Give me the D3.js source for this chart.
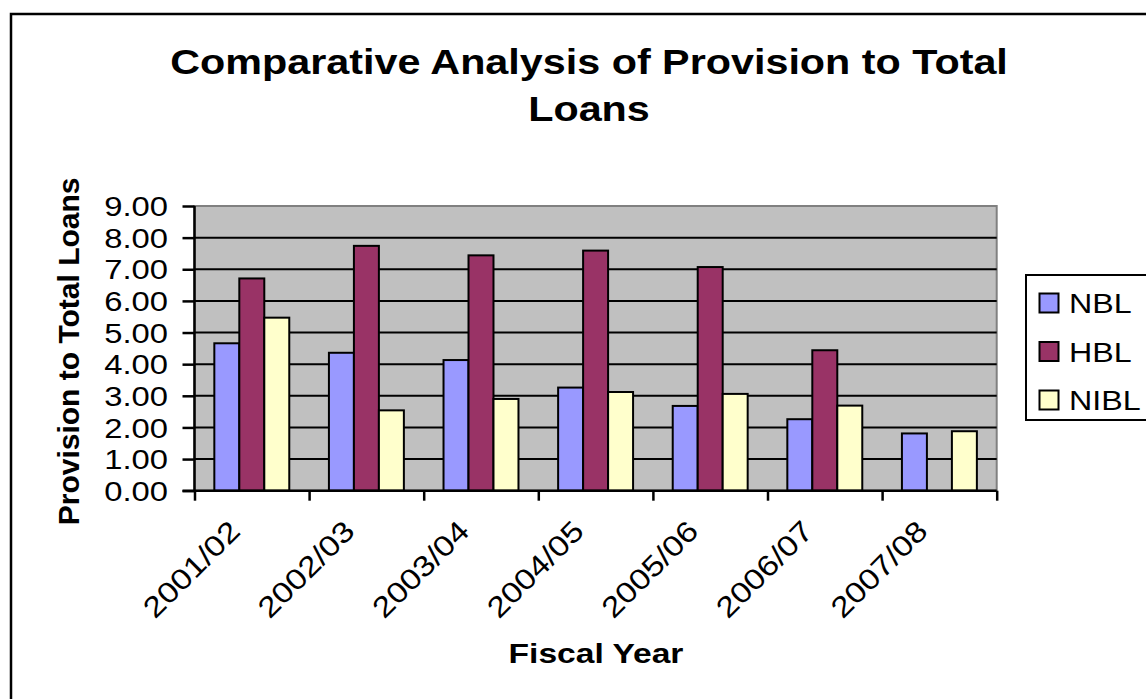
<!DOCTYPE html>
<html>
<head>
<meta charset="utf-8">
<script src="https://cdn.jsdelivr.net/npm/d3@7"></script>
<style>
  body { margin: 0; background: #fff; }
  text { font-family: Arial, "Liberation Sans", sans-serif; fill: #000; }
</style>
</head>
<body>
<svg id="chart" width="1146" height="699"></svg>
<script>
let years = ["2001/02", "2002/03", "2003/04", "2004/05", "2005/06", "2006/07", "2007/08"],
    banks = ["NBL", "HBL", "NIBL"],
    nbl  = [4.66, 4.36, 4.13, 3.26, 2.68, 2.26, 1.81],
    hbl  = [6.71, 7.74, 7.44, 7.59, 7.07, 4.44, 0],
    nibl = [5.47, 2.54, 2.90, 3.12, 3.06, 2.69, 1.88],
    yTicks = [0, 1, 2, 3, 4, 5, 6, 7, 8, 9];

let colors = {NBL: "#9999ff", HBL: "#993366", NIBL: "#ffffcc"};

let width = 1146,
    height = 699,
    plot = {left: 194.5, right: 996.7, top: 206, bottom: 490.7};

let svg = d3.select("#chart");

function make_scales() {
  let x0 = d3.scaleBand()
        .domain(years)
        .range([plot.left, plot.right]),
      gap = x0.bandwidth() * 0.173;
  return {
    x0: x0,
    x1: d3.scaleBand()
          .domain(banks)
          .range([gap, x0.bandwidth() - gap]),
    y: d3.scaleLinear()
          .domain([0, 9])
          .range([plot.bottom, plot.top])
  };
}

// text stretched horizontally, like the original rendering
function stretched(parent, x, y, str, size, sx, opts) {
  opts = opts || {};
  let g = parent.append("g")
    .attr("transform", `translate(${x},${y}) ${opts.rotate ? "rotate(" + opts.rotate + ")" : ""} scale(${sx},1)`);
  return g.append("text")
    .attr("text-anchor", opts.anchor || "start")
    .attr("dy", opts.dy || 0)
    .style("font-size", size + "px")
    .style("font-weight", opts.bold ? "bold" : "normal")
    .text(str);
}

function draw_frame() {
  svg.append("rect")
    .attr("x", 11).attr("y", 14)
    .attr("width", 1200).attr("height", 800)
    .attr("fill", "#fff").attr("stroke", "#000").attr("stroke-width", 2.5);
}

function draw_title() {
  let line1 = stretched(svg, 589, 74, "Comparative Analysis of Provision to Total", 36, 1, {anchor: "middle", bold: true});
  let sx = 838 / line1.node().getComputedTextLength();
  d3.select(line1.node().parentNode)
    .attr("transform", `translate(589,74) scale(${sx},1)`);
  stretched(svg, 589, 121, "Loans", 36, sx, {anchor: "middle", bold: true});
}

function draw_plot(scales) {
  svg.append("rect")
    .attr("x", plot.left).attr("y", plot.top)
    .attr("width", plot.right - plot.left)
    .attr("height", plot.bottom - plot.top)
    .attr("fill", "#c0c0c0")
    .attr("stroke", "#808080").attr("stroke-width", 2);

  svg.append("g").selectAll("line")
    .data(yTicks.filter(d => d > 0 && d < 9)).enter()
    .append("line")
    .attr("x1", plot.left).attr("x2", plot.right)
    .attr("y1", d => scales.y(d)).attr("y2", d => scales.y(d))
    .attr("stroke", "#000").attr("stroke-width", 2);
}

function draw_bars(scales) {
  let series = {NBL: nbl, HBL: hbl, NIBL: nibl};
  let groups = svg.append("g").selectAll("g")
    .data(years).enter()
    .append("g")
    .attr("transform", d => `translate(${scales.x0(d)},0)`);

  groups.selectAll("rect")
    .data((d, i) => banks.map(b => ({bank: b, value: series[b][i]})).filter(d => d.value > 0))
    .enter()
    .append("rect")
    .attr("x", d => scales.x1(d.bank))
    .attr("width", scales.x1.bandwidth())
    .attr("y", d => scales.y(d.value))
    .attr("height", d => scales.y(0) - scales.y(d.value))
    .attr("fill", d => colors[d.bank])
    .attr("stroke", "#000").attr("stroke-width", 2);
}

function add_axes(scales) {
  let y_axis = d3.axisLeft(scales.y)
        .tickValues(yTicks)
        .tickSize(12)
        .tickFormat(""),
      x_axis = d3.axisBottom(d3.scaleLinear().domain([0, years.length]).range([plot.left, plot.right]))
        .ticks(years.length)
        .tickSize(10)
        .tickFormat("");

  let ya = svg.append("g")
    .attr("transform", `translate(${plot.left},0)`)
    .call(y_axis);
  ya.select(".domain").attr("d", `M0,${plot.top}V${plot.bottom}`);
  ya.selectAll("line, path").attr("stroke", "#000").attr("stroke-width", 2.5);

  let xa = svg.append("g")
    .attr("transform", `translate(0,${plot.bottom})`)
    .call(x_axis);
  xa.select(".domain").attr("d", `M${plot.left - 12},0H${plot.right}`);
  xa.selectAll("line, path").attr("stroke", "#000").attr("stroke-width", 2.5);

  yTicks.forEach(t => {
    stretched(svg, 168, scales.y(t), d3.format(".2f")(t), 28, 1.17, {anchor: "end", dy: "0.36em"});
  });

  years.forEach(yr => {
    let cx = scales.x0(yr) + scales.x0.bandwidth() / 2;
    stretched(svg, cx - 10, 533, yr, 29, 1.17, {anchor: "end", rotate: -45});
  });

  stretched(svg, 596, 663, "Fiscal Year", 28, 1.2, {anchor: "middle", bold: true});

  svg.append("text")
    .attr("transform", `translate(79,${(plot.top + plot.bottom) / 2 + 3}) rotate(-90)`)
    .attr("text-anchor", "middle")
    .style("font-size", "30px")
    .style("font-weight", "bold")
    .text("Provision to Total Loans");
}

function draw_legend() {
  let lg = svg.append("g");
  lg.append("rect")
    .attr("x", 1026).attr("y", 275)
    .attr("width", 200).attr("height", 145)
    .attr("fill", "#fff").attr("stroke", "#000").attr("stroke-width", 2);

  let ly = d3.scalePoint().domain(banks).range([303, 400]);
  banks.forEach(b => {
    lg.append("rect")
      .attr("x", 1039.5).attr("y", ly(b) - 9.5)
      .attr("width", 19).attr("height", 19)
      .attr("fill", colors[b]).attr("stroke", "#000").attr("stroke-width", 2);
    stretched(lg, 1069, ly(b), b, 28, 1.15, {dy: "0.36em"});
  });
}

let scales = make_scales();
draw_frame();
draw_title();
draw_plot(scales);
draw_bars(scales);
add_axes(scales);
draw_legend();
</script>
</body>
</html>
